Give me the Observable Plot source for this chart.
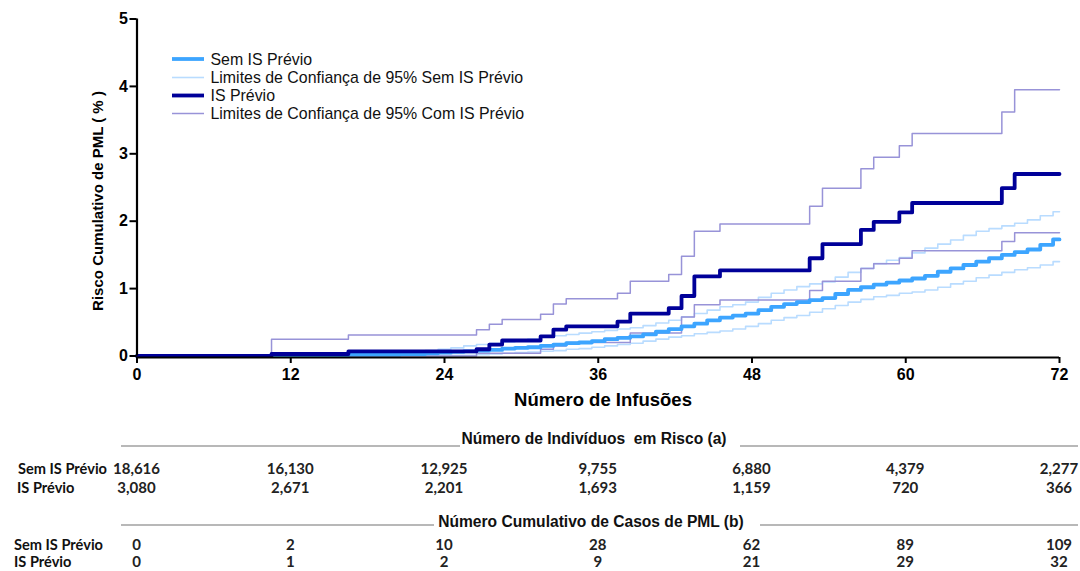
<!DOCTYPE html>
<html><head><meta charset="utf-8">
<script src="https://cdn.jsdelivr.net/npm/d3@7"></script>
<script src="https://cdn.jsdelivr.net/npm/@observablehq/plot@0.6"></script>
<style>
  html,body{margin:0;padding:0;background:#fff;}
  #chart{width:1080px;height:571px;}
</style>
</head><body><div id="chart"></div>
<script>
// ---------- DATA ----------
const xTicks = [0, 12, 24, 36, 48, 60, 72];
const yTicks = [0, 1, 2, 3, 4, 5];

// Sem IS Prévio (step positions, number of infusions)
const semInfusions = [0, 10.5, 16.5, 20.5, 22.5,
  23.5, 24.5, 25.5, 26.5, 27.5, 28.5, 29.5, 30.5, 31.5, 32.5, 33.5, 34.5, 35.5,
  36.5, 37.5, 38.5, 39.5, 40.5, 41.5, 42.5, 43.5, 44.5, 45.5, 46.5, 47.5,
  48.5, 49.5, 50.5, 51.5, 52.5, 53.5, 54.5, 55.5, 56.5, 57.5, 58.5, 59.5,
  60.5, 61.5, 62.5, 63.5, 64.5, 65.5, 66.5, 67.5, 68.5, 69.5, 70.5, 71.5, 72];
const semRisk = [0, 0.01, 0.02, 0.03, 0.04,
  0.05, 0.06, 0.07, 0.08, 0.09, 0.11, 0.12, 0.13, 0.15, 0.17, 0.19, 0.20, 0.22,
  0.25, 0.27, 0.29, 0.32, 0.36, 0.40, 0.44, 0.48, 0.53, 0.57, 0.60, 0.63,
  0.68, 0.73, 0.77, 0.80, 0.83, 0.86, 0.92, 0.98, 1.02, 1.06, 1.09, 1.12,
  1.15, 1.19, 1.25, 1.30, 1.35, 1.40, 1.45, 1.50, 1.54, 1.58, 1.65, 1.73, 1.73];
const semUpper = [0, 0.03, 0.05, 0.07, 0.08,
  0.10, 0.12, 0.15, 0.17, 0.19, 0.21, 0.23, 0.25, 0.28, 0.30, 0.32, 0.34, 0.36,
  0.38, 0.40, 0.42, 0.45, 0.49, 0.53, 0.58, 0.63, 0.68, 0.73, 0.76, 0.80,
  0.87, 0.93, 0.98, 1.03, 1.07, 1.10, 1.17, 1.24, 1.30, 1.37, 1.42, 1.46,
  1.53, 1.60, 1.66, 1.72, 1.79, 1.85, 1.89, 1.93, 1.97, 2.02, 2.08, 2.14, 2.14];
const semLower = [0, 0, 0, 0.01, 0.01,
  0.01, 0.01, 0.01, 0.02, 0.03, 0.04, 0.05, 0.06, 0.07, 0.08, 0.10, 0.11, 0.13,
  0.15, 0.17, 0.19, 0.22, 0.25, 0.28, 0.30, 0.33, 0.35, 0.37, 0.40, 0.44,
  0.48, 0.53, 0.57, 0.60, 0.65, 0.70, 0.75, 0.80, 0.84, 0.88, 0.90, 0.93,
  0.95, 0.98, 1.02, 1.07, 1.11, 1.16, 1.20, 1.24, 1.28, 1.31, 1.35, 1.40, 1.40];

// IS Prévio
const isInfusions = [0, 10.5, 16.5, 26.5, 27.5, 28.5, 31.5, 32.5, 33.5, 37.5, 38.5, 41.5,
  42.5, 43.5, 45.5, 52.5, 53.5, 56.5, 57.5, 59.5, 60.5, 67.5, 68.5, 72];
const isRisk  = [0, 0.03, 0.07, 0.10, 0.17, 0.23, 0.29, 0.39, 0.44, 0.51, 0.63, 0.71,
  0.89, 1.18, 1.27, 1.45, 1.66, 1.87, 1.99, 2.13, 2.27, 2.49, 2.70, 2.70];
const isUpper = [0, 0.25, 0.31, 0.39, 0.47, 0.54, 0.62, 0.77, 0.85, 0.93, 1.11, 1.21,
  1.48, 1.85, 1.96, 2.22, 2.49, 2.78, 2.95, 3.12, 3.30, 3.62, 3.95, 3.95];
const isLower = [0, 0, 0, 0.04, 0.04, 0.04, 0.10, 0.15, 0.20, 0.20, 0.34, 0.34,
  0.58, 0.76, 0.83, 0.97, 1.11, 1.30, 1.37, 1.45, 1.56, 1.70, 1.83, 1.83];

// Table
const tableTimes = [0, 12, 24, 36, 48, 60, 72];
const atRiskSem = ["18,616", "16,130", "12,925", "9,755", "6,880", "4,379", "2,277"];
const atRiskIS  = ["3,080", "2,671", "2,201", "1,693", "1,159", "720", "366"];
const casesSem  = ["0", "2", "10", "28", "62", "89", "109"];
const casesIS   = ["0", "1", "2", "9", "21", "29", "32"];

const legendLabels = [
  "Sem IS Prévio",
  "Limites de Confiança de 95% Sem IS Prévio",
  "IS Prévio",
  "Limites de Confiança de 95% Com IS Prévio"
];

// ---------- STYLE ----------
const cSemMain = "#3da5ff", cSemCI = "#b9dcff", cISMain = "#000099", cISCI = "#9893d8";
const FONT = "'Liberation Sans', Arial, Helvetica, sans-serif";
const TFONT = "Lato, 'Open Sans', sans-serif";

const semRows = semInfusions.map((x, i) => ({x, risk: semRisk[i], upper: semUpper[i], lower: semLower[i]}));
const isRows = isInfusions.map((x, i) => ({x, risk: isRisk[i], upper: isUpper[i], lower: isLower[i]}));

const chart = Plot.plot({
  width: 1080, height: 571,
  marginLeft: 136.5, marginRight: 21, marginTop: 18.5, marginBottom: 215.5,
  x: {domain: [0, 72]},
  y: {domain: [0, 5]},
  style: {fontFamily: FONT, background: "#fff", color: "#000", overflow: "visible"},
  marks: [
    Plot.line(semRows, {x: "x", y: "upper", curve: "step-after", stroke: cSemCI, strokeWidth: 1.6}),
    Plot.line(semRows, {x: "x", y: "lower", curve: "step-after", stroke: cSemCI, strokeWidth: 1.6}),
    Plot.line(isRows, {x: "x", y: "upper", curve: "step-after", stroke: cISCI, strokeWidth: 1.5}),
    Plot.line(isRows, {x: "x", y: "lower", curve: "step-after", stroke: cISCI, strokeWidth: 1.5}),
    Plot.line(semRows, {x: "x", y: "risk", curve: "step-after", stroke: cSemMain, strokeWidth: 3.8}),
    Plot.line(isRows, {x: "x", y: "risk", curve: "step-after", stroke: cISMain, strokeWidth: 3.8}),
    Plot.ruleY([0], {stroke: "#000", strokeWidth: 2.2, dy: 1.5}),
    Plot.ruleX([0], {stroke: "#000", strokeWidth: 2.2}),
    Plot.axisX({ticks: xTicks, tickFormat: d3.format("d"), tickSize: 6, tickPadding: 5, fontSize: 16, fontWeight: "bold", label: null, strokeWidth: 2, dy: 1.5}),
    Plot.axisY({ticks: yTicks, tickFormat: d3.format("d"), tickSize: 7, tickPadding: 2, fontSize: 16, fontWeight: "bold", label: null, strokeWidth: 2})
  ]
});
document.getElementById("chart").appendChild(chart);

const svg = d3.select(chart);
const xs = chart.scale("x");

// axis titles
svg.append("text").attr("x", 603).attr("y", 406).attr("text-anchor", "middle")
  .attr("font-family", FONT).attr("font-size", 18.5).attr("font-weight", "bold").attr("fill", "#000")
  .text("Número de Infusões");
svg.append("text").attr("transform", "translate(103,201) rotate(-90)").attr("text-anchor", "middle")
  .attr("font-family", FONT).attr("font-size", 15).attr("font-weight", "bold").attr("fill", "#000")
  .text("Risco Cumulativo de PML ( % )");

// legend
const legStyles = [
  {stroke: cSemMain, w: 3.8}, {stroke: cSemCI, w: 1.6}, {stroke: cISMain, w: 3.8}, {stroke: cISCI, w: 1.5}
];
const legY = [59, 77.5, 95.5, 113.5];
legendLabels.forEach((lab, i) => {
  svg.append("line").attr("x1", 172).attr("x2", 204).attr("y1", legY[i]).attr("y2", legY[i])
    .attr("stroke", legStyles[i].stroke).attr("stroke-width", legStyles[i].w);
  svg.append("text").attr("x", 210.5).attr("y", legY[i] + 5.5).attr("text-anchor", "start")
    .attr("font-family", FONT).attr("font-size", 15.9).attr("fill", "#111").text(lab);
});

// table
function header(text, cx, y, lines) {
  svg.append("text").attr("x", cx).attr("y", y).attr("text-anchor", "middle")
    .attr("font-family", FONT).attr("font-size", 15.6).attr("font-weight", "bold").attr("fill", "#111")
    .text(text);
  lines.forEach(([a, b, ly]) => svg.append("line").attr("x1", a).attr("x2", b).attr("y1", ly).attr("y2", ly)
    .attr("stroke", "#a0a0a0").attr("stroke-width", 1.5));
}
header("Número de Indivíduos  em Risco (a)", 594, 444, [[121, 460, 446], [740, 1078, 446]]);
header("Número Cumulativo de Casos de PML (b)", 591, 527, [[121, 434, 525], [760, 1078, 525]]);

function row(label, lx, y, values) {
  svg.append("text").attr("x", lx).attr("y", y).attr("text-anchor", "start")
    .attr("font-family", TFONT).attr("font-size", 14.6)
    .attr("font-weight", "bold").attr("fill", "#111").text(label);
  values.forEach((v, i) => svg.append("text").attr("x", xs.apply(tableTimes[i])).attr("y", y)
    .attr("text-anchor", "middle").attr("font-family", TFONT).attr("font-size", 15)
    .attr("font-weight", "bold").attr("fill", "#222").text(v));
}
row("Sem IS Prévio", 18, 473.5, atRiskSem);
row("IS Prévio", 17, 492.5, atRiskIS);
row("Sem IS Prévio", 14, 549.5, casesSem);
row("IS Prévio", 14, 567, casesIS);
</script>
</body></html>
